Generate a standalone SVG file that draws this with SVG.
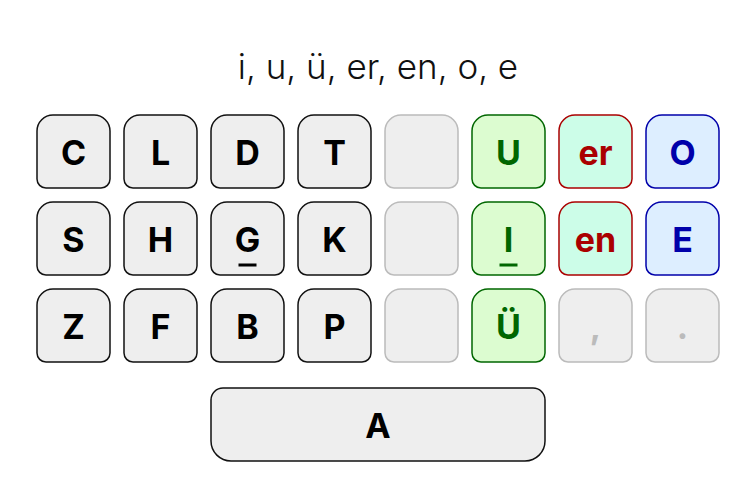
<svg xmlns="http://www.w3.org/2000/svg" xmlns:xlink="http://www.w3.org/1999/xlink" width="756" height="498" viewBox="0 0 756 498">
<style>
.t{font-family:Inter,"Liberation Sans",sans-serif;font-size:34px;font-weight:bold;text-anchor:middle}
.title{font-family:Inter,"Liberation Sans",sans-serif;font-size:35px;font-weight:300;text-anchor:middle;fill:#111}
.n{fill:#eeeeee;stroke:#111;stroke-width:1.5}
.e{fill:#eeeeee;stroke:#bbbbbb;stroke-width:1.5}
.g{fill:#dcfcd0;stroke:#006600;stroke-width:1.5}
.r{fill:#ccfde8;stroke:#aa0000;stroke-width:1.5}
.b{fill:#ddeeff;stroke:#0000aa;stroke-width:1.5}
.tn{fill:#000}
.tg{fill:#006600}
.tr{fill:#aa0000}
.tb{fill:#0000aa}
.te{fill:#bbbbbb}
</style>
<defs>
<path id="k" d="M16,0 H57 A16,16 0 0 1 73,16 V64 A9,9 0 0 1 64,73 H9 A9,9 0 0 1 0,64 V16 A16,16 0 0 1 16,0 Z"/>
</defs>
<text class="title" x="378" y="79">i, u, ü, er, en, o, e</text>

<g id="key-C"><use href="#k" x="37" y="115" class="n"/><text class="t tn" x="73.5" y="165">C</text></g>
<g id="key-L"><use href="#k" x="124" y="115" class="n"/><text class="t tn" x="160.5" y="165">L</text></g>
<g id="key-D"><use href="#k" x="211" y="115" class="n"/><text class="t tn" x="247.5" y="165">D</text></g>
<g id="key-T"><use href="#k" x="298" y="115" class="n"/><text class="t tn" x="334.5" y="165">T</text></g>
<g id="key-empty1"><use href="#k" x="385" y="115" class="e"/></g>
<g id="key-U"><use href="#k" x="472" y="115" class="g"/><text class="t tg" x="508.5" y="165">U</text></g>
<g id="key-er"><use href="#k" x="559" y="115" class="r"/><text class="t tr" x="595.5" y="165">er</text></g>
<g id="key-O"><use href="#k" x="646" y="115" class="b"/><text class="t tb" x="682.5" y="165">O</text></g>

<g id="key-S"><use href="#k" x="37" y="202" class="n"/><text class="t tn" x="73.5" y="252">S</text></g>
<g id="key-H"><use href="#k" x="124" y="202" class="n"/><text class="t tn" x="160.5" y="252">H</text></g>
<g id="key-G"><use href="#k" x="211" y="202" class="n"/><text class="t tn" x="247.5" y="252">G</text><rect x="238.5" y="263.5" width="18" height="3" fill="#000"/></g>
<g id="key-K"><use href="#k" x="298" y="202" class="n"/><text class="t tn" x="334.5" y="252">K</text></g>
<g id="key-empty2"><use href="#k" x="385" y="202" class="e"/></g>
<g id="key-I"><use href="#k" x="472" y="202" class="g"/><text class="t tg" x="508.5" y="252">I</text><rect x="499.5" y="263.5" width="18" height="3" fill="#006600"/></g>
<g id="key-en"><use href="#k" x="559" y="202" class="r"/><text class="t tr" x="595.5" y="252">en</text></g>
<g id="key-E"><use href="#k" x="646" y="202" class="b"/><text class="t tb" x="682.5" y="252">E</text></g>

<g id="key-Z"><use href="#k" x="37" y="289" class="n"/><text class="t tn" x="73.5" y="339">Z</text></g>
<g id="key-F"><use href="#k" x="124" y="289" class="n"/><text class="t tn" x="160.5" y="339">F</text></g>
<g id="key-B"><use href="#k" x="211" y="289" class="n"/><text class="t tn" x="247.5" y="339">B</text></g>
<g id="key-P"><use href="#k" x="298" y="289" class="n"/><text class="t tn" x="334.5" y="339">P</text></g>
<g id="key-empty3"><use href="#k" x="385" y="289" class="e"/></g>
<g id="key-Uu"><use href="#k" x="472" y="289" class="g"/><text class="t tg" x="508.5" y="339">Ü</text></g>
<g id="key-comma"><use href="#k" x="559" y="289" class="e"/><text class="t te" x="595.5" y="339">,</text></g>
<g id="key-period"><use href="#k" x="646" y="289" class="e"/><text class="t te" x="682.5" y="339">.</text></g>

<g id="key-A"><path class="n" d="M223,388 H533 A12,12 0 0 1 545,400 V441 A20,20 0 0 1 525,461 H231 A20,20 0 0 1 211,441 V400 A12,12 0 0 1 223,388 Z"/><text class="t tn" x="378" y="438">A</text></g>
<g id="connectors"></g>
</svg>
